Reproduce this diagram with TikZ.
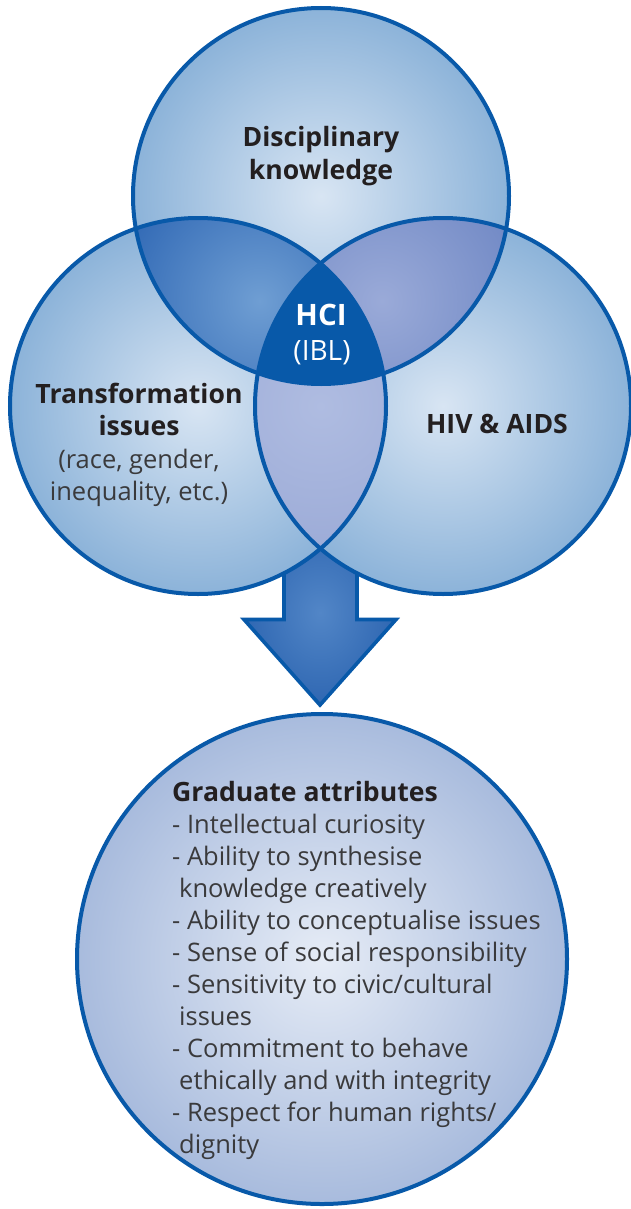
\documentclass[tikz,border=0pt]{standalone}
\usepackage{fontspec}
\setmainfont{Open Sans}
\usetikzlibrary{calc,positioning}

\definecolor{ringblue}{HTML}{0859A9}
\definecolor{venin}{HTML}{D8E5F3}
\definecolor{venout}{HTML}{8CB3D9}
\definecolor{dkin}{HTML}{6F9ED3}
\definecolor{dkout}{HTML}{3169B5}
\definecolor{hain}{HTML}{9AAAD8}
\definecolor{haout}{HTML}{7189C5}
\definecolor{tiin}{HTML}{AFBCE1}
\definecolor{tiout}{HTML}{9CABD7}
\definecolor{arrowin}{HTML}{5286C7}
\definecolor{arrowout}{HTML}{2F67B2}
\definecolor{gain}{HTML}{E6ECF6}
\definecolor{gaout}{HTML}{A8BBDD}
\definecolor{txtdark}{HTML}{231F20}
\definecolor{txtgrey}{HTML}{3A3A3C}

\tikzset{
  ring/.style={draw=ringblue, line width=4pt},
  headtxt/.style={font=\fontsize{26.6}{32.5}\selectfont\bfseries, text=txtdark, align=center, inner sep=0pt},
  bodytxt/.style={font=\fontsize{25.5}{32.5}\selectfont, text=txtgrey, align=center, inner sep=0pt},
  hcitxt/.style={font=\fontsize{28}{35}\selectfont, text=white, inner sep=0pt, anchor=base}
}

\begin{document}
\begin{tikzpicture}[x=1pt,y=-1pt]
\useasboundingbox (0,0) rectangle (630,1209);

\coordinate (DK) at (321,196);
\coordinate (TI) at (198,406);
\coordinate (HA) at (443,406);
\coordinate (GA) at (322,959);

% arrow down to the attributes
\shadedraw[ring, line width=3.6pt, inner color=arrowin, outer color=arrowout]
  (284,520) -- (357,520) -- (357,619.5) -- (396,619.5) -- (320,705)
  -- (244,619.5) -- (284,619.5) -- cycle;

% the three circles
\foreach \c in {DK,TI,HA}
  \shade[inner color=venin, outer color=venout] (\c) circle (188pt);

% overlaps
\begin{scope}
  \clip (DK) circle (188pt);
  \clip (TI) circle (188pt);
  \shade[inner color=dkin, outer color=dkout] ($(DK)!0.5!(TI)$) circle (150pt);
\end{scope}
\begin{scope}
  \clip (DK) circle (188pt);
  \clip (HA) circle (188pt);
  \shade[inner color=hain, outer color=haout] ($(DK)!0.5!(HA)$) circle (150pt);
\end{scope}
\begin{scope}
  \clip (TI) circle (188pt);
  \clip (HA) circle (188pt);
  \shade[inner color=tiin, outer color=tiout] ($(TI)!0.5!(HA)$) circle (150pt);
\end{scope}
\begin{scope}
  \clip (DK) circle (188pt);
  \clip (TI) circle (188pt);
  \fill[ringblue] (HA) circle (188pt);
\end{scope}

\foreach \c in {DK,TI,HA}
  \draw[ring] (\c) circle (188pt);

% attributes circle
\shadedraw[ring, inner color=gain, outer color=gaout] (GA) circle (245pt);

% labels
\node(DKtxt)[headtxt] at (321,156) {Disciplinary\\knowledge};
\node(TItxt)[bodytxt] at (139,445)
  {{\fontsize{26.6}{32.5}\selectfont\bfseries\textcolor{txtdark}{Transformation}}\\{\fontsize{26.6}{32.5}\selectfont\bfseries\textcolor{txtdark}{issues}}\\(race, gender,\\inequality, etc.)};
\node(HAtxt)[headtxt, anchor=base] at (497,433) {HIV \& AIDS};
\node(HCI)[hcitxt, font=\fontsize{29.5}{35}\selectfont\bfseries] at (321,325) {HCI};
\node(IBL)[hcitxt] at (322,360) {(IBL)};

\node(GAtxt)[bodytxt, font=\fontsize{25.5}{32}\selectfont, align=left, anchor=north west] at (172,781)
  {{\fontsize{26.6}{32}\selectfont\bfseries\textcolor{txtdark}{Graduate attributes}}\\
   - Intellectual curiosity\\
   - Ability to synthesise\\
   \hspace*{7pt}knowledge creatively\\
   - Ability to conceptualise issues\\
   - Sense of social responsibility\\
   - Sensitivity to civic/cultural\\
   \hspace*{7pt}issues\\
   - Commitment to behave\\
   \hspace*{7pt}ethically and with integrity\\
   - Respect for human rights/\\
   \hspace*{7pt}dignity};
\end{tikzpicture}
\end{document}
